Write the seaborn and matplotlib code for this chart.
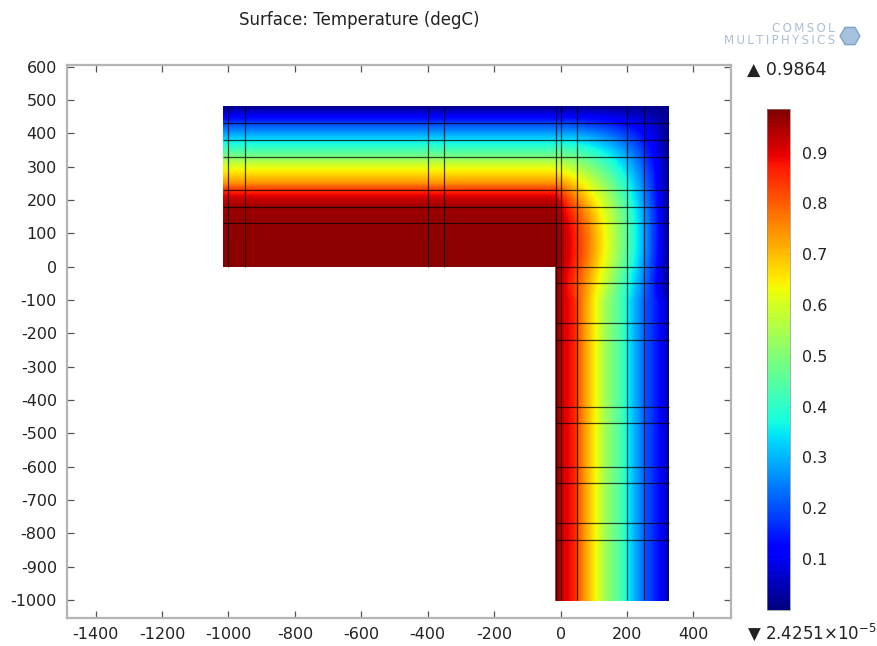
import numpy as np
import matplotlib
matplotlib.use("Agg")
import matplotlib.pyplot as plt
import seaborn as sns
from matplotlib.patches import RegularPolygon

# ---- data --------------------------------------------------------------
# temperature across the horizontal arm (as a function of y)
harm_y = [0, 100, 180, 210, 230, 250, 270, 290, 310, 330, 360, 380, 400, 420, 460, 480]
harm_T = [0.975, 0.97, 0.96, 0.91, 0.84, 0.75, 0.69, 0.64, 0.58, 0.49, 0.40, 0.34,
          0.28, 0.22, 0.08, 0.01]
# temperature across the vertical arm (as a function of x)
varm_x = [-15, -5, 10, 30, 45, 53, 68, 88, 108, 128, 154, 179, 199, 214, 234, 259,
          289, 314, 325]
varm_T = [0.97, 0.95, 0.91, 0.88, 0.85, 0.81, 0.75, 0.69, 0.63, 0.555, 0.49, 0.44,
          0.37, 0.32, 0.27, 0.20, 0.15, 0.08, 0.01]
edge_T = 0.01          # outer (top / right) boundary temperature

# geometry of the L-shaped domain
x_left, x_inner, x_right = -1015, -15, 325
y_bottom, y_inner, y_top = -1000, 0, 480
y_blend = -100         # lower limit of the corner fill

# mesh lines
mesh_x_full = [-15, 0, 50, 200, 250]            # span whole height
mesh_x_harm = [-1000, -950, -400, -350]         # horizontal arm only
mesh_y_full = [130, 180, 230, 330, 380, 430]     # span whole width
mesh_y_varm = [0, -50, -170, -220, -420, -470, -600, -650, -770, -820]

t_min, t_max = 2.4251e-5, 0.9864
cbar_ticks = [0.1, 0.2, 0.3, 0.4, 0.5, 0.6, 0.7, 0.8, 0.9]
x_ticks = [-1400, -1200, -1000, -800, -600, -400, -200, 0, 200, 400]
y_ticks = [600, 500, 400, 300, 200, 100, 0, -100, -200, -300, -400, -500, -600,
           -700, -800, -900, -1000]

# ---- build the surface -------------------------------------------------
step = 2.5
xs = np.arange(x_left, x_right + step / 2, step)
ys = np.arange(y_bottom, y_top + step / 2, step)
X, Y = np.meshgrid(xs, ys)
T = np.full(X.shape, np.nan)
in_h = (X < x_inner) & (Y >= y_inner)
T[in_h] = np.interp(Y[in_h], harm_y, harm_T)
in_v = (Y < y_inner) & (X >= x_inner)
T[in_v] = np.interp(X[in_v], varm_x, varm_T)

# corner region: steady conduction fill between the two arms
ci = int(np.argmin(np.abs(xs - x_inner)))
cj = int(np.argmin(np.abs(ys - y_blend)))
cx, cy = xs[ci:], ys[cj:]
ny, nx = len(cy), len(cx)
left = np.where(cy < y_inner, varm_T[0], np.interp(cy, harm_y, harm_T))
bottom = np.interp(cx, varm_x, varm_T)
C = T[cj:, ci:].copy()
C[np.isnan(C)] = 0.5
C[:, 0] = left
C[0, :] = bottom
C[-1, :] = edge_T
C[:, -1] = edge_T
ii, jj = np.indices((ny - 2, nx - 2))
masks = [((ii + jj) % 2 == 0), ((ii + jj) % 2 == 1)]
above = (cy[1:-1] >= y_inner)[:, None].astype(float)
omega = 1.9
for _ in range(1800):
    for m in masks:
        inner = C[1:-1, 1:-1]
        q = above * (1.2e-5 + 1.0e-5 * np.clip((inner - 0.75) / 0.2, 0.0, 1.0))
        avg = 0.25 * (C[:-2, 1:-1] + C[2:, 1:-1] + C[1:-1, :-2] + C[1:-1, 2:]
                      + q * step * step)
        inner[m] += omega * (avg[m] - inner[m])
T[cj:, ci:] = np.clip(C, t_min, t_max)

# ---- figure ------------------------------------------------------------
sns.set_theme(style="ticks")
plt.rcParams["font.family"] = ["DejaVu Sans"]
plt.rcParams["axes.unicode_minus"] = False

W, H = 878, 646
fig = plt.figure(figsize=(W / 100, H / 100), dpi=100)
fig.patch.set_facecolor("white")
ax = fig.add_axes([66.7 / W, 1 - 617.5 / H, (731 - 66.7) / W, (617.5 - 65) / H])
ax.set_facecolor("white")

cmap = plt.get_cmap("jet").copy()
cmap.set_bad((1, 1, 1, 0))
im = ax.imshow(np.ma.masked_invalid(T), origin="lower",
               extent=[x_left - step / 2, x_right + step / 2,
                       y_bottom - step / 2, y_top + step / 2],
               cmap=cmap, vmin=t_min, vmax=t_max, aspect="auto",
               interpolation="antialiased")

mesh_kw = dict(colors="black", linewidths=0.9, alpha=0.72)
ax.vlines(mesh_x_full, y_bottom, y_top, **mesh_kw)
ax.vlines(mesh_x_harm, y_inner, y_top, **mesh_kw)
ax.hlines(mesh_y_full, x_left, x_right, **mesh_kw)
ax.hlines(mesh_y_varm, x_inner, x_right, **mesh_kw)

ax.set_xlim(-1487, 513)
ax.set_ylim(-1052, 605)
ax.set_xticks(x_ticks)
ax.set_yticks(y_ticks)
ax.tick_params(direction="in", top=True, right=True, length=5, width=0.9,
               color="#555555", labelsize=11.5, labelcolor="#222222", pad=7)
for s in ax.spines.values():
    s.set_color("#b4b4b4")
    s.set_linewidth(1.6)

fig.text(359 / W, 1 - 20 / H, "Surface: Temperature (degC)", ha="center",
         va="center", fontsize=12, color="#222222")

# colour bar
cax = fig.add_axes([767 / W, 1 - 609.7 / H, 23 / W, 501 / H])
cb = fig.colorbar(im, cax=cax, ticks=cbar_ticks)
cb.outline.set_linewidth(0.5)
cb.outline.set_edgecolor("#888888")
cax.tick_params(direction="in", left=True, right=True, length=4, width=0.8,
                color="#333333", labelsize=11.5, labelcolor="#222222", pad=9)
fig.text(747 / W, 1 - 70 / H, "\u25B2 0.9864", ha="left", va="center",
         fontsize=12.5, color="#222222")
fig.text(747 / W, 1 - 632 / H, "\u25BC 2.4251\u00D710$^{-5}$", ha="left",
         va="center", fontsize=12, color="#222222")

# logo
sp = "\u2009"
fig.text(835 / W, 1 - 29 / H, sp.join("COMSOL"), ha="right", va="center",
         fontsize=8.5, color="#abbfd2")
fig.text(835 / W, 1 - 41 / H, sp.join("MULTIPHYSICS"), ha="right", va="center",
         fontsize=8.5, color="#abbfd2")
fig.patches.append(RegularPolygon((850 / 100, (H - 36) / 100), 6, radius=0.1,
                                  orientation=np.pi / 6, facecolor="#8db2d6",
                                  edgecolor="#6f98c2", alpha=0.8,
                                  transform=fig.dpi_scale_trans))

fig.savefig("out.png", dpi=100, facecolor="white")
